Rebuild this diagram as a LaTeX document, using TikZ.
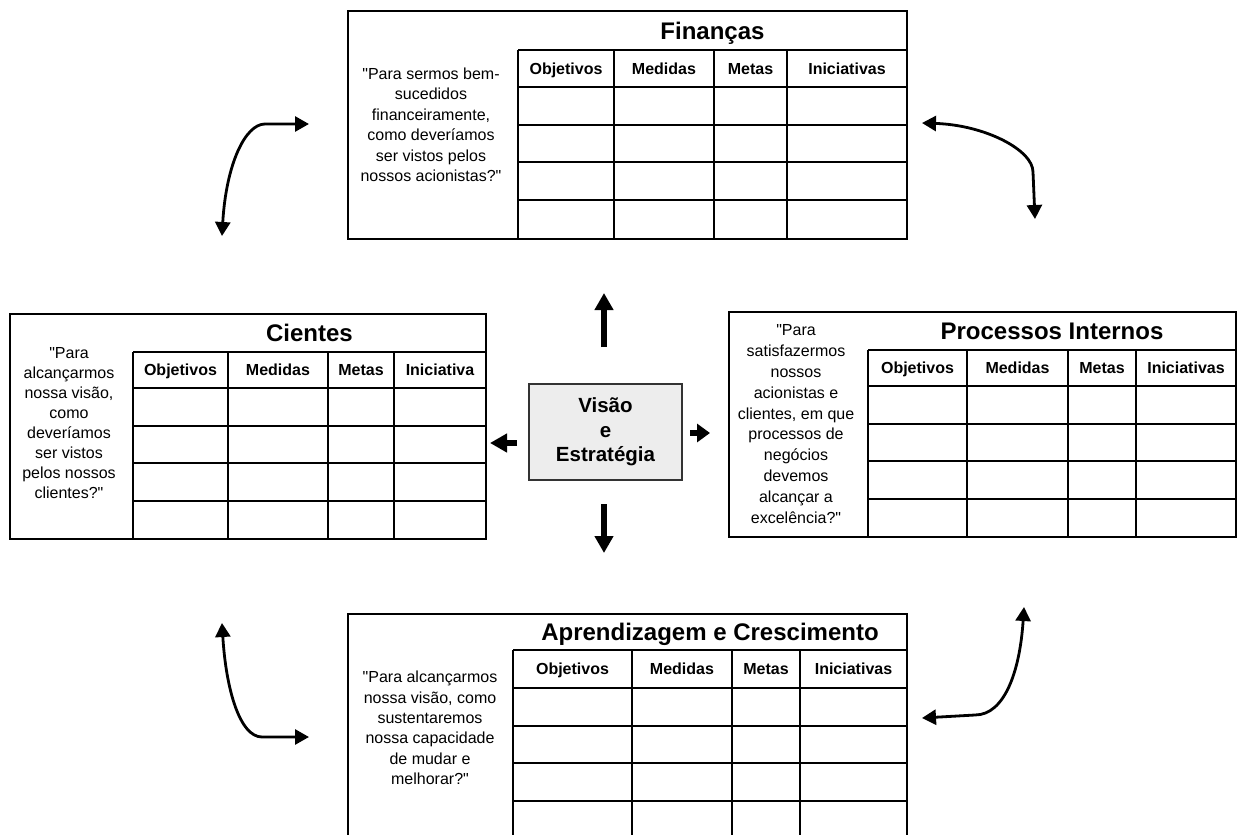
\documentclass[tikz,border=0pt]{standalone}
\usepackage{fontspec}
\setmainfont{Liberation Sans}[Ligatures=TeXOff]
\usetikzlibrary{arrows.meta}
\tikzset{
  panel/.style={draw, line width=2.2pt, inner sep=0pt, outer sep=0pt, anchor=north west},
  gridline/.style={line width=2pt},
  hdr/.style={font=\bfseries\fontsize{16}{18}\selectfont, inner sep=0pt, text height=11.5pt, text depth=0pt},
  ttl/.style={font=\bfseries\fontsize{24}{28}\selectfont, inner sep=0pt, text height=17.2pt, text depth=0pt},
  qtext/.style={align=center, inner sep=0pt},
  fat/.style={line width=6pt, -{Triangle[width=18pt,length=17pt]}},
  fatshort/.style={line width=6pt, -{Triangle[width=18pt,length=13pt]}},
  curv/.style={line width=2.8pt, {Triangle[width=15pt,length=14pt]}-{Triangle[width=15pt,length=14pt]}},
}
\def\bscrow{37.7}
% #1 prefix, #2..#6 column x, #7 header top, #8 header bottom, #9 last header
\newcommand\bscgrid[9]{%
  \draw[gridline] (#2,#7) -- (#6,#7);
  \draw[gridline] (#2,#7) -- (#2,{#8+4*\bscrow});
  \foreach \k in {0,1,2,3}{\draw[gridline] (#2,{#8+\k*\bscrow}) -- (#6,{#8+\k*\bscrow});}
  \foreach \xx in {#3,#4,#5}{\draw[gridline] (\xx,#7) -- (\xx,{#8+4*\bscrow});}
  \node[hdr] (#1-h1) at ({(#2+#3)/2},{(#7+#8)/2}) {Objetivos};
  \node[hdr] (#1-h2) at ({(#3+#4)/2},{(#7+#8)/2}) {Medidas};
  \node[hdr] (#1-h3) at ({(#4+#5)/2},{(#7+#8)/2}) {Metas};
  \node[hdr] (#1-h4) at ({(#5+#6)/2},{(#7+#8)/2}) {#9};
}
\begin{document}
\begin{tikzpicture}[x=1pt,y=-1pt]
\useasboundingbox (0,0) rectangle (1240,835);

% ---------- Finanças (top)
\node[panel, minimum width=559pt, minimum height=228pt] (fin) at (348,11) {};
\bscgrid{fin}{518}{614}{714}{787}{907}{50}{87}{Iniciativas}
\node[ttl] (fin-t) at (712.5,30.5) {Finanças};
\node[qtext, font=\fontsize{16}{20.5}\selectfont] (fin-q) at (431,125) {"Para sermos bem-\\sucedidos\\financeiramente,\\como deveríamos\\ser vistos pelos\\nossos acionistas?"};

% ---------- Cientes (left)
\node[panel, minimum width=476pt, minimum height=225pt] (cli) at (10,314) {};
\bscgrid{cli}{133}{228}{328}{394}{486}{352}{388}{Iniciativa}
\node[ttl] (cli-t) at (309.5,333) {Cientes};
\node[qtext, font=\fontsize{16}{20}\selectfont] (cli-q) at (69,423) {"Para\\alcançarmos\\nossa visão,\\como\\deveríamos\\ser vistos\\pelos nossos\\clientes?"};

% ---------- Processos Internos (right)
\node[panel, minimum width=507pt, minimum height=225pt] (pro) at (729,312) {};
\bscgrid{pro}{868}{967}{1068}{1136}{1236}{350}{386}{Iniciativas}
\node[ttl] (pro-t) at (1052,331) {Processos Internos};
\node[qtext, font=\fontsize{16}{20.8}\selectfont] (pro-q) at (796,424) {"Para\\satisfazermos\\nossos\\acionistas e\\clientes, em que\\processos de\\negócios\\devemos\\alcançar a\\excelência?"};

% ---------- Aprendizagem e Crescimento (bottom)
\node[panel, minimum width=559pt, minimum height=250pt] (apr) at (348,614) {};
\bscgrid{apr}{513}{632}{732}{800}{907}{650}{688}{Iniciativas}
\node[ttl] (apr-t) at (710,632) {Aprendizagem e Crescimento};
\node[qtext, font=\fontsize{16}{20.4}\selectfont] (apr-q) at (430,728) {"Para alcançarmos\\nossa visão, como\\sustentaremos\\nossa capacidade\\de mudar e\\melhorar?"};

% ---------- Visão e Estratégia (center)
\node[draw=black!80, fill=black!7, line width=1.6pt, minimum width=153pt, minimum height=96pt, inner sep=0pt,
      align=center, font=\bfseries\fontsize{20.5}{24.5}\selectfont] (vs) at (605.5,432) {Visão\\e\\Estratégia};

% straight arrows
\coordinate (upS) at (604,347);  \coordinate (upE) at (604,293);
\coordinate (dnS) at (604,504);  \coordinate (dnE) at (604,553);
\coordinate (lfS) at (517,443);  \coordinate (lfE) at (490,443);
\coordinate (rtS) at (690,433);  \coordinate (rtE) at (710,433);
\draw[fat] (upS) -- (upE);
\draw[fat] (dnS) -- (dnE);
\draw[fat] (lfS) -- (lfE);
\draw[fatshort] (rtS) -- (rtE);

% curved double arrows
\coordinate (tlA) at (222,236); \coordinate (tlB) at (309,124);
\draw[curv] (tlA) .. controls (226,165) and (245,124) .. (265,124) -- (tlB);
\coordinate (trA) at (922,123); \coordinate (trB) at (1035,219);
\draw[curv] (trA) .. controls (985,125) and (1033,150) .. (1033,172) -- (trB);
\coordinate (blA) at (222,623); \coordinate (blB) at (309,737);
\draw[curv] (blA) .. controls (226,690) and (240,737) .. (262,737) -- (blB);
\coordinate (brA) at (1024,607); \coordinate (brB) at (922,718);
\draw[curv] (brA) .. controls (1020,670) and (1005,715) .. (975,715) -- (brB);
\end{tikzpicture}
\end{document}
